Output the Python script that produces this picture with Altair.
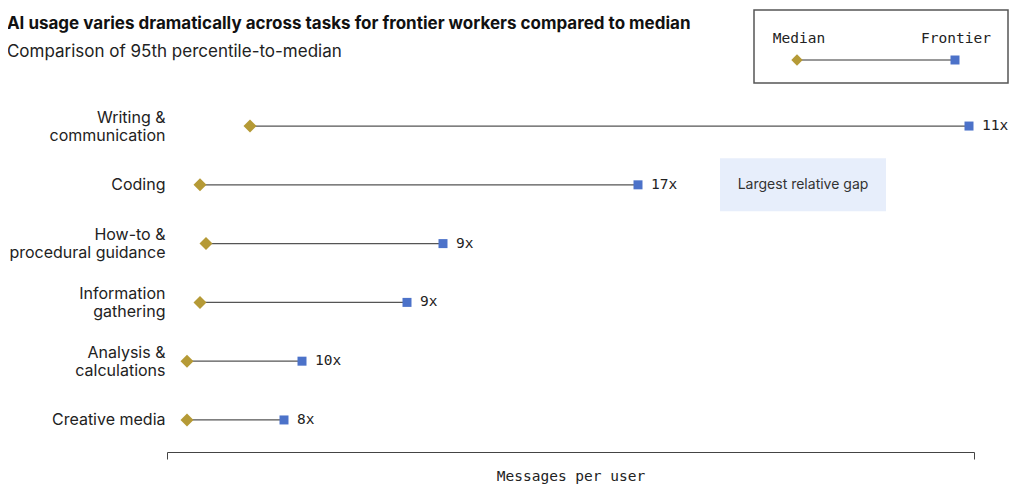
import altair as alt
import pandas as pd

categories = ["Writing &|communication", "Coding", "How-to &|procedural guidance",
              "Information|gathering", "Analysis &|calculations", "Creative media"]
median_vals = [83, 33, 39, 33, 20, 20]
frontier_vals = [802, 471, 276, 240, 135, 117]
ratio_labels = ["11x", "17x", "9x", "9x", "10x", "8x"]

df = pd.DataFrame({
    "task": categories,
    "median": median_vals,
    "frontier": frontier_vals,
    "ratio": ratio_labels,
})

annot = pd.DataFrame({"task": ["Coding"], "x1": [553], "x2": [719], "xm": [636],
                      "text": ["Largest relative gap"]})

GOLD = "#B59A36"
BLUE = "#4C72C9"
FONT = "Inter"
MONO = "DejaVu Sans Mono"
MONO_SIZE = 14.5

xscale = alt.Scale(domain=[0, 807], nice=False, zero=True)
yscale = alt.Scale(type="point", padding=0.545)

xaxis = alt.Axis(values=[0, 807], labels=False, grid=False, tickSize=7, domainColor="#444",
                 tickColor="#444", title="Messages per user", titleFont=MONO,
                 titleFontSize=MONO_SIZE, titleFontWeight="normal", titleColor="#222",
                 titlePadding=10)
yaxis = alt.Axis(title=None, domain=False, ticks=False, grid=False, labelFont=FONT,
                 labelFontSize=16, labelColor="#222", labelPadding=2, labelLineHeight=18,
                 labelExpr="split(datum.value, '|')",
                 labelOffset={"condition": {"test": "indexof(datum.value, '|') >= 0",
                                            "value": -9}, "value": 0})

base = alt.Chart(df)

ann_rect = alt.Chart(annot).mark_bar(color="#E7EEFB", size=53).encode(
    x=alt.X("x1:Q", scale=xscale, axis=xaxis),
    x2="x2:Q",
    y=alt.Y("task:N", sort=categories, scale=yscale, axis=yaxis),
)
ann_text = alt.Chart(annot).mark_text(font=FONT, fontSize=14, color="#333",
                                      align="center", baseline="middle").encode(
    x=alt.X("xm:Q", scale=xscale), y=alt.Y("task:N", sort=categories), text="text:N")

rules = base.mark_rule(color="#555", strokeWidth=1.2).encode(
    x=alt.X("median:Q", scale=xscale, axis=xaxis),
    x2="frontier:Q",
    y=alt.Y("task:N", sort=categories, scale=yscale, axis=yaxis),
)
med = base.mark_point(shape="diamond", filled=True, size=169, color=GOLD, opacity=1).encode(
    x=alt.X("median:Q", scale=xscale), y=alt.Y("task:N", sort=categories))
fro = base.mark_point(shape="square", filled=True, size=81, color=BLUE, opacity=1).encode(
    x=alt.X("frontier:Q", scale=xscale), y=alt.Y("task:N", sort=categories))
lbl = base.mark_text(font=MONO, fontSize=MONO_SIZE, color="#222", align="left",
                     baseline="middle", dx=13).encode(
    x=alt.X("frontier:Q", scale=xscale), y=alt.Y("task:N", sort=categories), text="ratio:N")

# legend box (decoration)
leg = pd.DataFrame({"k": [0]})
lb = alt.Chart(leg)
leg_box = lb.mark_rect(fill="white", stroke="#555", strokeWidth=1.5).encode(
    x=alt.value(587), x2=alt.value(841), y=alt.value(-84), y2=alt.value(-11))
leg_line = lb.mark_rule(color="#333", strokeWidth=1).encode(
    x=alt.value(630), x2=alt.value(788), y=alt.value(-34))
leg_d = lb.mark_point(shape="diamond", filled=True, size=130, color=GOLD, opacity=1).encode(
    x=alt.value(630), y=alt.value(-34))
leg_s = lb.mark_point(shape="square", filled=True, size=81, color=BLUE, opacity=1).encode(
    x=alt.value(788), y=alt.value(-34))
leg_t1 = lb.mark_text(font=MONO, fontSize=MONO_SIZE, color="#222", align="center",
                      baseline="middle", text="Median").encode(x=alt.value(632), y=alt.value(-55))
leg_t2 = lb.mark_text(font=MONO, fontSize=MONO_SIZE, color="#222", align="center",
                      baseline="middle", text="Frontier").encode(x=alt.value(789), y=alt.value(-55))

chart = alt.layer(ann_rect, ann_text, rules, med, fro, lbl,
                  leg_box, leg_line, leg_d, leg_s, leg_t1, leg_t2).properties(
    width=807, height=358,
    title=alt.TitleParams(
        text="AI usage varies dramatically across tasks for frontier workers compared to median",
        subtitle="Comparison of 95th percentile-to-median",
        anchor="start", frame="bounds", font=FONT, fontSize=17, fontWeight="bold",
        color="#111", subtitleFont=FONT, subtitleFontSize=17, subtitleColor="#222",
        subtitlePadding=11, dy=56, dx=-2),
    autosize=alt.AutoSizeParams(type="none"),
    padding={"left": 159, "top": 86, "right": 42, "bottom": 34},
).configure_view(stroke=None)

chart.save("out.html", embed_options={"renderer": "svg", "actions": False})
